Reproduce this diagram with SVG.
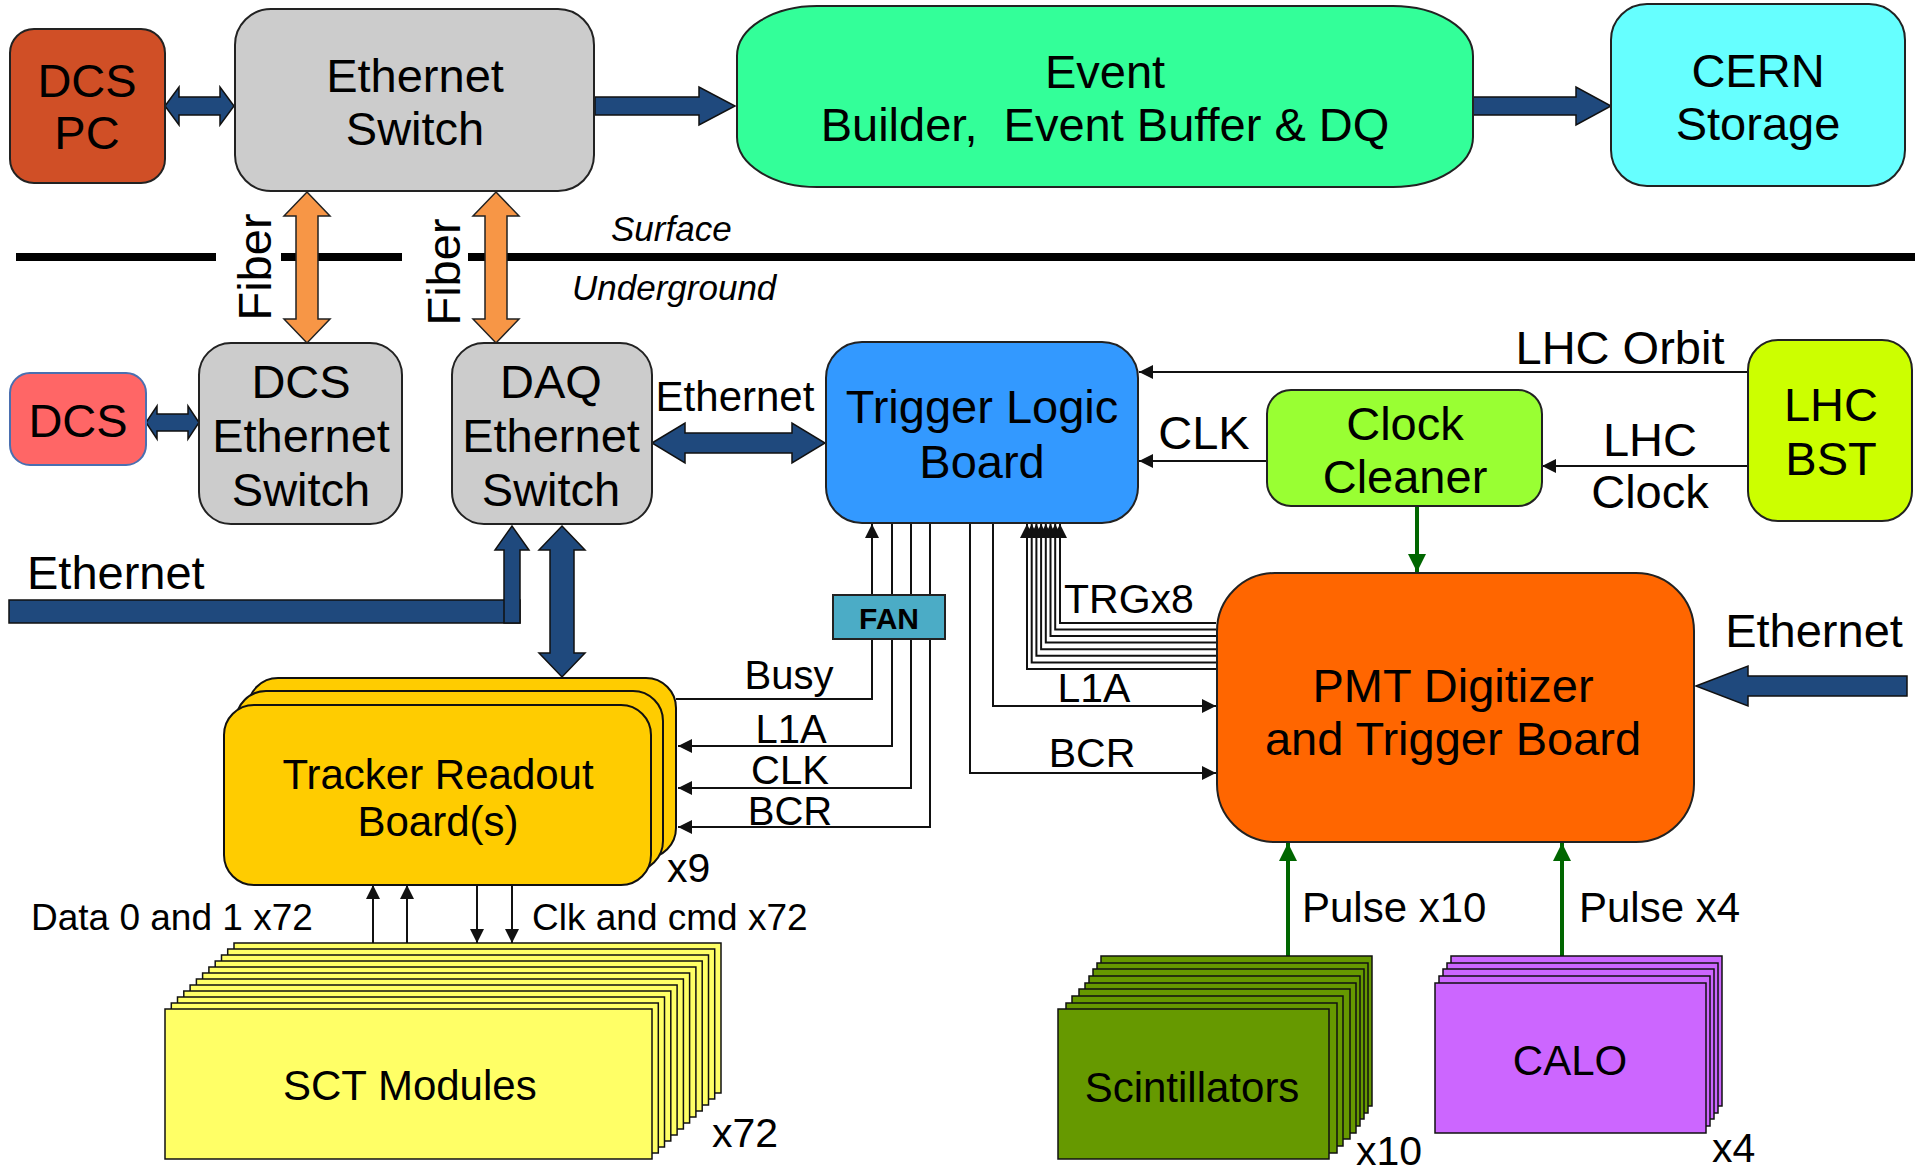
<svg xmlns="http://www.w3.org/2000/svg" width="1915" height="1171" viewBox="0 0 1915 1171">
<defs>
<style>
text{font-family:"Liberation Sans",Arial,sans-serif;fill:#000}
.t47{font-size:47px}
.t42{font-size:42px}
.t41{font-size:41px}
.t40{font-size:40px}
.t37{font-size:37px}
.it{font-size:35px;font-style:italic}
.mid{text-anchor:middle}
.box{stroke:#222;stroke-width:2}
.blue{fill:#1F497D;stroke:#111;stroke-width:1.5}
.fib{fill:#F79646;stroke:#222;stroke-width:1.5}
.wa{fill:none;stroke:#111;stroke-width:2;marker-end:url(#ah)}
.ga{fill:none;stroke:#006600;stroke-width:4;marker-end:url(#gh)}
.sct{fill:#FFFF66;stroke:#111;stroke-width:1.5}
.sci{fill:#669900;stroke:#111;stroke-width:1.5}
.calo{fill:#CC66FF;stroke:#111;stroke-width:1.5}
.trk{fill:#FFCC00;stroke:#111;stroke-width:2}
</style>
<marker id="ah" markerUnits="userSpaceOnUse" markerWidth="16" markerHeight="14" refX="14" refY="7" orient="auto"><path d="M0,0 L14,7 L0,14 Z" fill="#111"/></marker>
<marker id="gh" markerUnits="userSpaceOnUse" markerWidth="20" markerHeight="18" refX="18" refY="9" orient="auto"><path d="M0,0 L18,9 L0,18 Z" fill="#006600"/></marker>
</defs>
<rect width="1915" height="1171" fill="#fff"/>

<g id="surface">
<rect x="16" y="253" width="200" height="8" fill="#000"/>
<rect x="281" y="253" width="121" height="8" fill="#000"/>
<rect x="468" y="253" width="1447" height="8" fill="#000"/>
<text class="it" x="611" y="241">Surface</text>
<text class="it" x="572" y="300">Underground</text>
</g>

<g id="connectors">
<polygon class="blue" points="165,106 179,87 179,97 220,97 220,87 234,106 220,125 220,115 179,115 179,125"/>
<polygon class="blue" points="595,97 699,97 699,87 735,106 699,125 699,115 595,115"/>
<polygon class="blue" points="1473,97 1576,97 1576,87 1611,106 1576,125 1576,115 1473,115"/>
<polygon class="blue" points="146,422.5 157,406 157,414 188,414 188,406 199,422.5 188,439 188,431 157,431 157,439"/>
<polygon class="blue" points="652,443 685,423 685,433 792,433 792,423 825,443 792,463 792,453 685,453 685,463"/>
<rect class="blue" x="9" y="600" width="511" height="23"/>
<polygon class="blue" points="504,623 504,550 495,550 512,526 529,550 520,550 520,623"/>
<polygon class="blue" points="562,526 585,550 574,550 574,653 585,653 562,677 539,653 550,653 550,550 539,550"/>
<polygon class="blue" points="1696,686 1748,666 1748,676 1907,676 1907,696 1748,696 1748,706"/>
<polygon class="fib" points="307,192 330,216 318,216 318,319 330,319 307,343 284,319 296,319 296,216 284,216"/>
<polygon class="fib" points="496,192 519,216 507,216 507,319 519,319 496,343 473,319 485,319 485,216 473,216"/>
<line class="wa" x1="1748" y1="372" x2="1139" y2="372"/>
<line class="wa" x1="1267" y1="461" x2="1139" y2="461"/>
<line class="wa" x1="1748" y1="466" x2="1542" y2="466"/>
<polyline class="wa" points="676,699 872,699 872,524"/>
<polyline class="wa" points="892,523 892,746 678,746"/>
<polyline class="wa" points="911,523 911,788 678,788"/>
<polyline class="wa" points="930,523 930,827 678,827"/>
<polyline class="wa" points="993,523 993,706 1216,706"/>
<polyline class="wa" points="970,523 970,773 1216,773"/>
<polyline class="wa" points="1216,669 1027,669 1027,524"/>
<polyline class="wa" points="1216,662.4 1031.7,662.4 1031.7,524"/>
<polyline class="wa" points="1216,655.8 1036.4,655.8 1036.4,524"/>
<polyline class="wa" points="1216,649.2 1041.1,649.2 1041.1,524"/>
<polyline class="wa" points="1216,642.6 1045.8,642.6 1045.8,524"/>
<polyline class="wa" points="1216,636 1050.5,636 1050.5,524"/>
<polyline class="wa" points="1216,629.4 1055.2,629.4 1055.2,524"/>
<polyline class="wa" points="1216,623 1060,623 1060,524"/>
<line class="wa" x1="373" y1="943" x2="373" y2="885"/>
<line class="wa" x1="407" y1="943" x2="407" y2="885"/>
<line class="wa" x1="477" y1="885" x2="477" y2="943"/>
<line class="wa" x1="512" y1="885" x2="512" y2="943"/>
<line class="ga" x1="1417" y1="506" x2="1417" y2="572"/>
<line class="ga" x1="1288" y1="956" x2="1288" y2="843"/>
<line class="ga" x1="1562" y1="956" x2="1562" y2="843"/>
<text class="t42" x="735" y="411" text-anchor="middle">Ethernet</text>
<text class="t47" x="1620" y="364" text-anchor="middle">LHC Orbit</text>
<text class="t47" x="1204" y="449" text-anchor="middle">CLK</text>
<text class="t47" x="1650" y="456" text-anchor="middle">LHC</text>
<text class="t47" x="1650" y="508" text-anchor="middle">Clock</text>
<text class="t47" x="27" y="589">Ethernet</text>
<text class="t47" x="1814" y="647" text-anchor="middle">Ethernet</text>
<text class="t41" x="1064" y="613">TRGx8</text>
<text class="t41" x="1094" y="702" text-anchor="middle">L1A</text>
<text class="t41" x="1092" y="767" text-anchor="middle">BCR</text>
<text class="t40" x="789" y="689" text-anchor="middle">Busy</text>
<text class="t40" x="791" y="743" text-anchor="middle">L1A</text>
<text class="t40" x="790" y="784" text-anchor="middle">CLK</text>
<text class="t40" x="790" y="825" text-anchor="middle">BCR</text>
<text class="t37" x="31" y="930">Data 0 and 1 x72</text>
<text class="t37" x="532" y="930">Clk and cmd x72</text>
<text class="t42" x="1302" y="922">Pulse x10</text>
<text class="t42" x="1579" y="922">Pulse x4</text>
<text class="t47" transform="translate(271,267) rotate(-90)" text-anchor="middle">Fiber</text>
<text class="t47" transform="translate(460,272) rotate(-90)" text-anchor="middle">Fiber</text>
</g>

<g id="dcs-pc">
<rect class="box" x="10" y="29" width="155" height="154" rx="24" fill="#D04F26"/>
<text class="t47 mid" x="87" y="97">DCS</text>
<text class="t47 mid" x="87" y="149">PC</text>
</g>
<g id="ethernet-switch">
<rect class="box" x="235" y="9" width="359" height="182" rx="36" fill="#CCCCCC"/>
<text class="t47 mid" x="415" y="92">Ethernet</text>
<text class="t47 mid" x="415" y="145">Switch</text>
</g>
<g id="event-builder">
<rect class="box" x="737" y="6" width="736" height="181" rx="80" ry="50" fill="#33FF99"/>
<text class="t47 mid" x="1105" y="88">Event</text>
<text class="t47 mid" x="1105" y="141" xml:space="preserve">Builder,  Event Buffer &amp; DQ</text>
</g>
<g id="cern-storage">
<rect class="box" x="1611" y="4" width="294" height="182" rx="36" fill="#66FFFF"/>
<text class="t47 mid" x="1758" y="87">CERN</text>
<text class="t47 mid" x="1758" y="140">Storage</text>
</g>
<g id="dcs">
<rect x="10" y="373" width="136" height="92" rx="20" fill="#FF6666" stroke="#4A6FB0" stroke-width="2"/>
<text class="t47 mid" x="78" y="437">DCS</text>
</g>
<g id="dcs-ethernet-switch">
<rect class="box" x="199" y="343" width="203" height="181" rx="32" fill="#CCCCCC"/>
<text class="t47 mid" x="301" y="398">DCS</text>
<text class="t47 mid" x="301" y="452">Ethernet</text>
<text class="t47 mid" x="301" y="506">Switch</text>
</g>
<g id="daq-ethernet-switch">
<rect class="box" x="452" y="343" width="200" height="181" rx="32" fill="#CCCCCC"/>
<text class="t47 mid" x="551" y="398">DAQ</text>
<text class="t47 mid" x="551" y="452">Ethernet</text>
<text class="t47 mid" x="551" y="506">Switch</text>
</g>
<g id="trigger-logic-board">
<rect class="box" x="826" y="342" width="312" height="181" rx="36" fill="#3399FF"/>
<text class="t47 mid" x="982" y="423">Trigger Logic</text>
<text class="t47 mid" x="982" y="478">Board</text>
</g>
<g id="clock-cleaner">
<rect class="box" x="1267" y="390" width="275" height="116" rx="24" fill="#99FF33"/>
<text class="t47 mid" x="1405" y="440">Clock</text>
<text class="t47 mid" x="1405" y="493">Cleaner</text>
</g>
<g id="lhc-bst">
<rect class="box" x="1748" y="340" width="164" height="181" rx="30" fill="#CCFF00"/>
<text class="t47 mid" x="1831" y="421">LHC</text>
<text class="t47 mid" x="1831" y="475">BST</text>
</g>
<g id="fan">
<rect x="833" y="595" width="112" height="44" fill="#4BACC6" stroke="#222" stroke-width="2"/>
<text x="889" y="629" text-anchor="middle" font-size="30" font-weight="bold">FAN</text>
</g>
<g id="pmt-digitizer">
<rect class="box" x="1217" y="573" width="477" height="269" rx="58" fill="#FF6600"/>
<text class="t47 mid" x="1453" y="702">PMT Digitizer</text>
<text class="t47 mid" x="1453" y="755">and Trigger Board</text>
</g>
<g id="tracker-readout">
<rect class="trk" x="248" y="678" width="428" height="180" rx="30"/>
<rect class="trk" x="236" y="691" width="427" height="180" rx="30"/>
<rect class="trk" x="224" y="705" width="427" height="180" rx="30"/>
<text class="t42 mid" x="438" y="789">Tracker Readout</text>
<text class="t42 mid" x="438" y="836">Board(s)</text>
<text class="t41" x="667" y="882">x9</text>
</g>
<g id="sct-modules">
<rect class="sct" x="234" y="943" width="487" height="150"/>
<rect class="sct" x="227.7" y="949" width="487" height="150"/>
<rect class="sct" x="221.5" y="955" width="487" height="150"/>
<rect class="sct" x="215.2" y="961" width="487" height="150"/>
<rect class="sct" x="208.9" y="967" width="487" height="150"/>
<rect class="sct" x="202.6" y="973" width="487" height="150"/>
<rect class="sct" x="196.4" y="979" width="487" height="150"/>
<rect class="sct" x="190.1" y="985" width="487" height="150"/>
<rect class="sct" x="183.8" y="991" width="487" height="150"/>
<rect class="sct" x="177.5" y="997" width="487" height="150"/>
<rect class="sct" x="171.3" y="1003" width="487" height="150"/>
<rect class="sct" x="165" y="1009" width="487" height="150"/>
<text class="t42" x="283" y="1100">SCT Modules</text>
<text class="t41" x="712" y="1147">x72</text>
</g>
<g id="scintillators">
<rect class="sci" x="1101" y="956" width="271" height="150"/>
<rect class="sci" x="1097" y="963" width="271" height="150"/>
<rect class="sci" x="1093" y="969" width="271" height="150"/>
<rect class="sci" x="1089" y="976" width="271" height="150"/>
<rect class="sci" x="1085" y="983" width="271" height="150"/>
<rect class="sci" x="1079" y="989" width="271" height="150"/>
<rect class="sci" x="1072" y="996" width="271" height="150"/>
<rect class="sci" x="1066" y="1003" width="271" height="150"/>
<rect class="sci" x="1058" y="1009" width="271" height="150"/>
<text class="t42 mid" x="1192" y="1102">Scintillators</text>
<text class="t41" x="1356" y="1165">x10</text>
</g>
<g id="calo">
<rect class="calo" x="1451" y="956" width="271" height="150"/>
<rect class="calo" x="1447" y="963" width="271" height="150"/>
<rect class="calo" x="1443" y="969" width="271" height="150"/>
<rect class="calo" x="1439" y="976" width="271" height="150"/>
<rect class="calo" x="1435" y="983" width="271" height="150"/>
<text class="t42 mid" x="1570" y="1075">CALO</text>
<text class="t41" x="1712" y="1162">x4</text>
</g>
</svg>
